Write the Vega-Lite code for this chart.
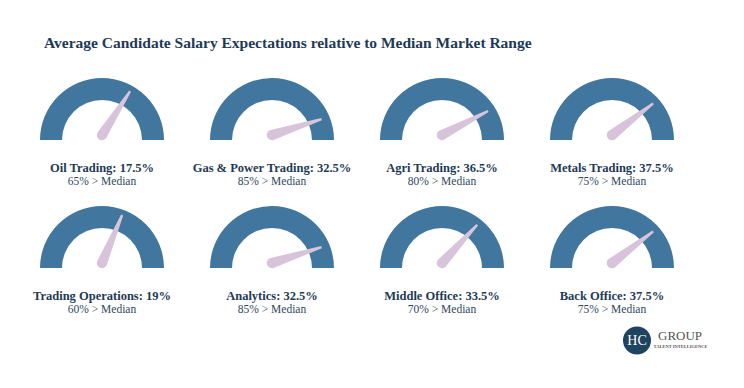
{
  "$schema": "https://vega.github.io/schema/vega-lite/v6.json",
  "background": "white",
  "bounds": "flush",
  "padding": {"left": 17, "top": 36, "right": 0, "bottom": 0},
  "title": {
    "text": "Average Candidate Salary Expectations relative to Median Market Range",
    "anchor": "start",
    "dx": 27,
    "offset": 24,
    "font": "Liberation Serif",
    "fontSize": 15.5,
    "fontWeight": "bold",
    "color": "#1E3A56"
  },
  "data": {
    "values": [
      {"order": 1, "name": "Oil Trading", "pct": 17.5, "above": 65, "label": "Oil Trading: 17.5%", "sub": "65% > Median"},
      {"order": 2, "name": "Gas & Power Trading", "pct": 32.5, "above": 85, "label": "Gas & Power Trading: 32.5%", "sub": "85% > Median"},
      {"order": 3, "name": "Agri Trading", "pct": 36.5, "above": 80, "label": "Agri Trading: 36.5%", "sub": "80% > Median"},
      {"order": 4, "name": "Metals Trading", "pct": 37.5, "above": 75, "label": "Metals Trading: 37.5%", "sub": "75% > Median"},
      {"order": 5, "name": "Trading Operations", "pct": 19, "above": 60, "label": "Trading Operations: 19%", "sub": "60% > Median"},
      {"order": 6, "name": "Analytics", "pct": 32.5, "above": 85, "label": "Analytics: 32.5%", "sub": "85% > Median"},
      {"order": 7, "name": "Middle Office", "pct": 33.5, "above": 70, "label": "Middle Office: 33.5%", "sub": "70% > Median"},
      {"order": 8, "name": "Back Office", "pct": 37.5, "above": 75, "label": "Back Office: 37.5%", "sub": "75% > Median"}
    ]
  },
  "facet": {"field": "name", "type": "nominal", "sort": {"field": "order", "op": "min"}, "title": null, "header": {"title": null, "labelExpr": "''", "labelFontSize": 0.1, "labelColor": "transparent", "labelPadding": 0}},
  "columns": 4,
  "spacing": {"row": 0, "column": 0},
  "spec": {
    "width": 170,
    "height": 128,
    "layer": [
      {
        "mark": {"type": "arc", "theta": -1.5708, "theta2": 1.5708, "radius": 62, "radius2": 40, "color": "#41769F"},
        "encoding": {}
      },
      {
        "mark": {
          "type": "point",
          "shape": "M-0.1,0 L-0.022,-1 L0.022,-1 L0.1,0 A0.1,0.1 0 0 1 -0.1,0 Z",
          "filled": true,
          "size": 10816,
          "yOffset": -5,
          "color": "#D8C4DA",
          "opacity": 1,
          "strokeWidth": 0
        },
        "encoding": {
          "angle": {"field": "above", "type": "quantitative", "scale": {"domain": [0, 100], "range": [-96, 102]}, "legend": null}
        }
      },
      {
        "mark": {"type": "text", "dy": 27.5, "font": "Liberation Serif", "fontSize": 12.5, "fontWeight": "bold", "color": "#1E3A56"},
        "encoding": {"text": {"field": "label", "type": "nominal"}}
      },
      {
        "mark": {"type": "text", "dy": 42, "font": "Liberation Serif", "fontSize": 11.5, "color": "#2E4763"},
        "encoding": {"text": {"field": "sub", "type": "nominal"}}
      },
      {
        "transform": [{"filter": "datum.name === 'Back Office'"}],
        "layer": [
          {
            "mark": {"type": "point", "shape": "circle", "filled": true, "size": 784, "xOffset": 25, "yOffset": 72.5, "color": "#1F4460", "opacity": 1},
            "encoding": {}
          },
          {
            "mark": {"type": "text", "text": "HC", "dx": 25, "dy": 72.5, "font": "Liberation Serif", "fontSize": 14, "color": "white"},
            "encoding": {}
          },
          {
            "mark": {"type": "text", "text": "GROUP", "align": "left", "dx": 46, "dy": 68, "font": "Liberation Serif", "fontSize": 13, "color": "#555555"},
            "encoding": {}
          },
          {
            "mark": {"type": "text", "text": "TALENT INTELLIGENCE", "dx": 68.5, "dy": 79, "font": "Liberation Serif", "fontSize": 4.5, "fontWeight": "bold", "color": "#555555"},
            "encoding": {}
          }
        ]
      }
    ]
  },
  "config": {
    "view": {"stroke": null}
  }
}
